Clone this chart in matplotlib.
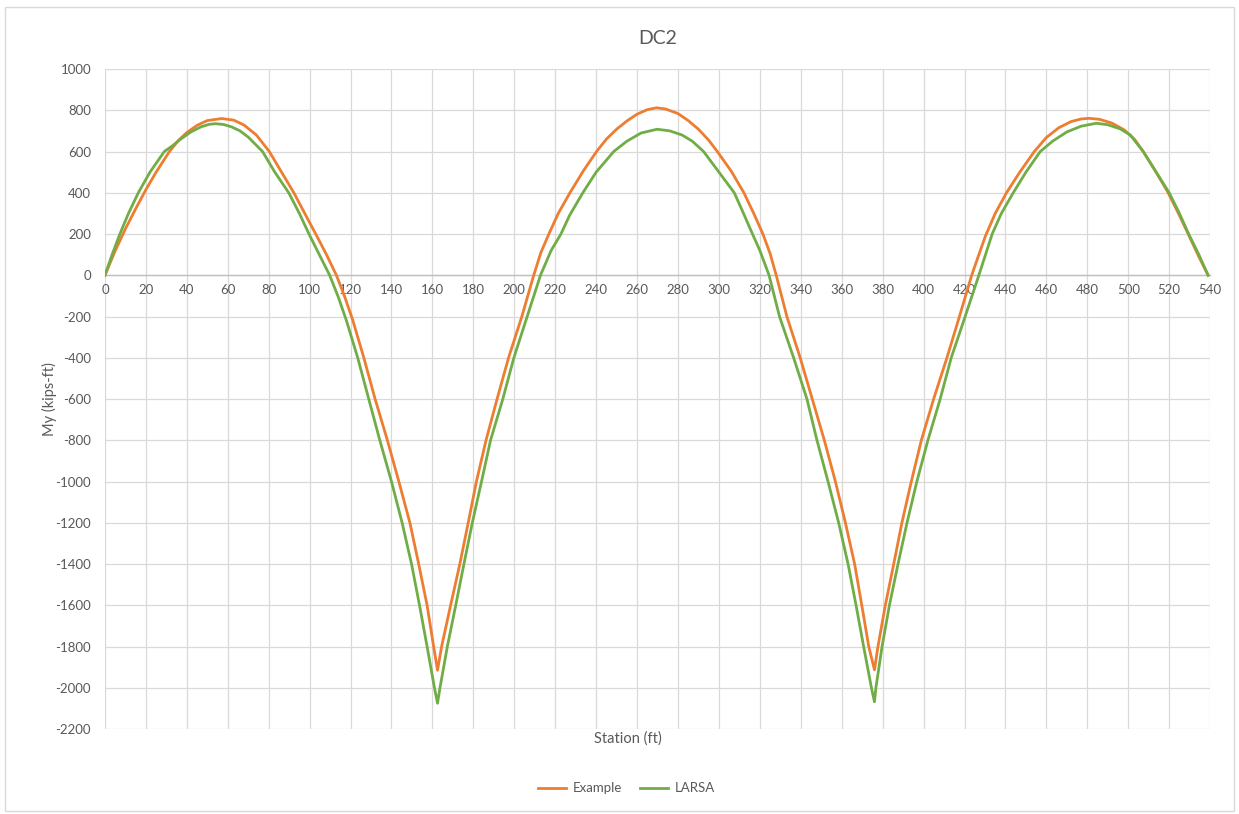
import numpy as np
import matplotlib.pyplot as plt
from matplotlib.patches import Rectangle

plt.rcParams['font.family'] = ['Lato', 'DejaVu Sans']
plt.rcParams['axes.unicode_minus'] = False

ex_x = [0, 5, 10, 15, 20, 25, 31.5, 36, 40, 45, 50, 57, 63, 68, 74, 80.3, 86, 92.3, 98, 103,
        108, 113.1, 117, 121, 126.5, 132, 138, 143.6, 149, 153.3, 157.4, 160.6, 162.5,
        164.5, 168.9, 173.4, 177.5, 181.5, 186.2, 191.6, 197.2, 203.7, 209.5, 213, 216.9,
        221.5, 227.2, 234, 240.2, 245, 250, 255, 260, 265, 269.5, 274, 280, 285, 290, 295,
        299.2, 306, 312.2, 317, 321.5, 325, 328, 333.2, 339.7, 345.6, 351.5, 356.9, 361.8,
        366.3, 369.8, 373.2, 376, 377.7, 381.3, 385.4, 389.4, 394, 398.9, 404.9, 411.4,
        417.5, 423.5, 427, 430.2, 435, 440.5, 447, 454.1, 460, 466, 472, 477, 481, 486, 492,
        498, 503, 507.3, 513, 519.5, 524.5, 529.3, 534, 539]
ex_y = [0, 118, 225, 322, 415, 500, 600, 655, 692, 727, 750, 760, 752, 728, 680, 600, 505, 400, 293, 200,
        105, 0, -100, -215, -400, -600, -800, -1000, -1200, -1400, -1600, -1800, -1915,
        -1800, -1600, -1400, -1200, -1000, -800, -600, -400, -200, 0, 110, 200,
        300, 400, 510, 600, 660, 708, 748, 781, 803, 812, 806, 784, 750, 708, 655,
        600, 505, 400, 300, 200, 105, 0, -200, -400, -600, -800, -1000, -1200,
        -1400, -1600, -1800, -1913, -1800, -1600, -1400, -1200, -1000, -800, -600, -400,
        -200, 0, 100, 190, 300, 400, 500, 600, 668, 715, 745, 758, 761, 756, 738,
        705, 660, 600, 510, 400, 300, 200, 100, 0]

larsa_x = [0, 3.5, 7.3, 11.5, 16.3, 22, 29, 33, 37, 42, 47, 51, 54, 58, 62, 66, 70, 74, 77, 83,
           89.8, 95, 99.7, 105, 109.8, 114, 118, 123.5, 128.9, 134.3, 140, 145.2, 149.8, 153.7,
           157.4, 161, 162.5, 163.7, 167.3, 171.4, 175.4, 179.5, 184, 188.4, 194.4, 199.8,
           206.3, 212.8, 218, 222.8, 227, 233.5, 240, 248.6, 255, 262, 269.8, 276, 282, 287,
           292.5, 300, 307.5, 312, 316.4, 320, 324.5, 329.6, 336.5, 343, 347.9, 353.3, 358.5,
           363.1, 367, 370.7, 374.5, 376, 376.7, 379.7, 383.3, 387.5, 391.9, 396.7, 402.1,
           408.1, 413.5, 420.3, 427, 433.5, 438, 443.8, 450, 457, 463, 470, 477, 484.4, 490,
           496, 501, 507.3, 513, 520, 525, 529.5, 534.5, 539]
larsa_y = [0, 100, 200, 300, 400, 500, 600, 628, 660, 695, 720, 732, 735, 731, 719, 700, 670, 630, 600, 500,
           400, 300, 200, 95, 0, -105, -220, -400, -600, -800, -1000, -1200, -1400, -1600,
           -1800, -2000, -2075, -2000, -1800, -1600, -1400, -1200, -1000, -800, -600, -400,
           -200, 0, 120, 200, 290, 400, 500, 600, 650, 690, 708, 700, 680, 650,
           600, 500, 400, 300, 200, 120, 0, -200, -400, -600, -800, -1000, -1200,
           -1400, -1600, -1800, -2000, -2068, -2000, -1800, -1600, -1400, -1200, -1000, -800,
           -600, -400, -200, 0, 200, 300, 400, 500, 600, 650, 695, 723, 737, 730,
           710, 680, 600, 510, 400, 300, 200, 100, 0]

grau = '#595959'

fig = plt.figure(figsize=(12.39, 8.14), dpi=100)
# Rahmen wie im Excel-Diagramm
fig.patches.append(Rectangle((0.004, 0.004), 0.992, 0.988, transform=fig.transFigure,
                             fill=False, edgecolor='#d9d9d9', linewidth=1))
ax = fig.add_axes([0.0847, 0.1044, 0.892, 0.8108])

ax.plot(ex_x, ex_y, color='#ED7D31', lw=2, label='Example', zorder=3)
ax.plot(larsa_x, larsa_y, color='#70AD47', lw=2, label='LARSA', zorder=3)

ax.set_xlim(0, 540)
ax.set_ylim(-2200, 1000)
ax.set_xticks(np.arange(0, 541, 20))
ax.set_yticks(np.arange(-2200, 1001, 200))
ax.grid(True, color='#d9d9d9', lw=0.9)
ax.set_axisbelow(True)

for s in ['top', 'right', 'left']:
    ax.spines[s].set_visible(False)
ax.spines['bottom'].set_position(('data', 0))
ax.spines['bottom'].set_color('#bfbfbf')
ax.spines['bottom'].set_linewidth(1)
ax.tick_params(length=0, colors=grau, labelsize=9.5)
ax.tick_params(axis='x', pad=6)
ax.tick_params(axis='y', pad=10)

ax.set_title('DC2', color=grau, fontsize=14, pad=18)
fig.text(0.507, 0.087, 'Station (ft)', color=grau, fontsize=10.5, ha='center')
fig.text(0.034, 0.51, 'My (kips-ft)', color=grau, fontsize=10.5, rotation=90, va='center')

ax.legend(loc='center', bbox_to_anchor=(0.472, -0.09), ncol=2, frameon=False,
          fontsize=9.5, labelcolor=grau, handlelength=2.1, handletextpad=0.5,
          columnspacing=1.4)

plt.savefig('out.png', dpi=100)
